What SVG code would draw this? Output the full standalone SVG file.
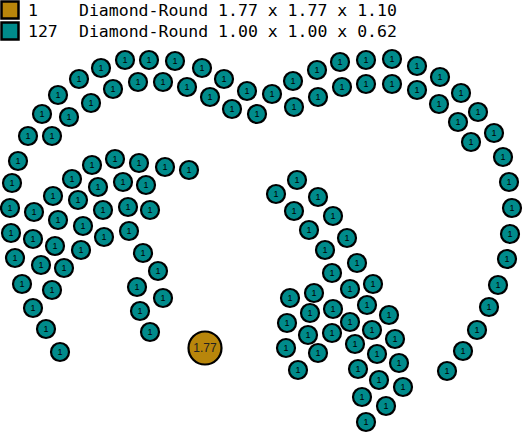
<svg xmlns="http://www.w3.org/2000/svg" width="525" height="434" viewBox="0 0 525 434">
<style>
.t circle{fill:#008B8B;stroke:#000;stroke-width:2.2}
.g circle{fill:#B8860B;stroke:#000;stroke-width:2.2}
.t text{font-family:"Liberation Sans",Arial,sans-serif;font-size:9px;fill:#000;text-anchor:middle;dominant-baseline:central}
.g text{font-family:"Liberation Sans",Arial,sans-serif;font-size:12px;fill:#222;text-anchor:middle;dominant-baseline:central}
.lg{font-family:"DejaVu Sans Mono","Liberation Mono",monospace;font-size:16.5px;fill:#000}
</style>
<g id="legend">
<rect x="1.5" y="1.5" width="17" height="17" fill="#B8860B" stroke="#000" stroke-width="2.5"/>
<rect x="1.5" y="22.5" width="17" height="17" fill="#008B8B" stroke="#000" stroke-width="2.5"/>
<text class="lg" x="28" y="16">1</text>
<text class="lg" x="79" y="16">Diamond-Round 1.77 x 1.77 x 1.10</text>
<text class="lg" x="28" y="37">127</text>
<text class="lg" x="79" y="37">Diamond-Round 1.00 x 1.00 x 0.62</text>
</g>
<g id="gold" class="g"><circle cx="205" cy="348" r="16.5"/><text x="205" y="348">1.77</text></g>
<g id="stones" class="t">
<g id="s1"><circle cx="125" cy="60" r="9"/><text x="125" y="60">1</text></g>
<g id="s2"><circle cx="149" cy="60" r="9"/><text x="149" y="60">1</text></g>
<g id="s3"><circle cx="175" cy="61" r="9"/><text x="175" y="61">1</text></g>
<g id="s4"><circle cx="101" cy="68" r="9"/><text x="101" y="68">1</text></g>
<g id="s5"><circle cx="79" cy="79" r="9"/><text x="79" y="79">1</text></g>
<g id="s6"><circle cx="58" cy="95" r="9"/><text x="58" y="95">1</text></g>
<g id="s7"><circle cx="42" cy="114" r="9"/><text x="42" y="114">1</text></g>
<g id="s8"><circle cx="28" cy="136" r="9"/><text x="28" y="136">1</text></g>
<g id="s9"><circle cx="18" cy="161" r="9"/><text x="18" y="161">1</text></g>
<g id="s10"><circle cx="138" cy="82" r="9"/><text x="138" y="82">1</text></g>
<g id="s11"><circle cx="163" cy="82" r="9"/><text x="163" y="82">1</text></g>
<g id="s12"><circle cx="113" cy="89" r="9"/><text x="113" y="89">1</text></g>
<g id="s13"><circle cx="91" cy="103" r="9"/><text x="91" y="103">1</text></g>
<g id="s14"><circle cx="69" cy="117" r="9"/><text x="69" y="117">1</text></g>
<g id="s15"><circle cx="52" cy="136" r="9"/><text x="52" y="136">1</text></g>
<g id="s16"><circle cx="202" cy="68" r="9"/><text x="202" y="68">1</text></g>
<g id="s17"><circle cx="224" cy="79" r="9"/><text x="224" y="79">1</text></g>
<g id="s18"><circle cx="247" cy="91" r="9"/><text x="247" y="91">1</text></g>
<g id="s19"><circle cx="272" cy="94" r="9"/><text x="272" y="94">1</text></g>
<g id="s20"><circle cx="293" cy="81" r="9"/><text x="293" y="81">1</text></g>
<g id="s21"><circle cx="317" cy="70" r="9"/><text x="317" y="70">1</text></g>
<g id="s22"><circle cx="340" cy="62" r="9"/><text x="340" y="62">1</text></g>
<g id="s23"><circle cx="187" cy="87" r="9"/><text x="187" y="87">1</text></g>
<g id="s24"><circle cx="210" cy="97" r="9"/><text x="210" y="97">1</text></g>
<g id="s25"><circle cx="232" cy="109" r="9"/><text x="232" y="109">1</text></g>
<g id="s26"><circle cx="257" cy="114" r="9"/><text x="257" y="114">1</text></g>
<g id="s27"><circle cx="294" cy="107" r="9"/><text x="294" y="107">1</text></g>
<g id="s28"><circle cx="318" cy="97" r="9"/><text x="318" y="97">1</text></g>
<g id="s29"><circle cx="342" cy="87" r="9"/><text x="342" y="87">1</text></g>
<g id="s30"><circle cx="366" cy="60" r="9"/><text x="366" y="60">1</text></g>
<g id="s31"><circle cx="392" cy="59" r="9"/><text x="392" y="59">1</text></g>
<g id="s32"><circle cx="417" cy="66" r="9"/><text x="417" y="66">1</text></g>
<g id="s33"><circle cx="440" cy="77" r="9"/><text x="440" y="77">1</text></g>
<g id="s34"><circle cx="461" cy="93" r="9"/><text x="461" y="93">1</text></g>
<g id="s35"><circle cx="478" cy="112" r="9"/><text x="478" y="112">1</text></g>
<g id="s36"><circle cx="494" cy="133" r="9"/><text x="494" y="133">1</text></g>
<g id="s37"><circle cx="503" cy="157" r="9"/><text x="503" y="157">1</text></g>
<g id="s38"><circle cx="366" cy="84" r="9"/><text x="366" y="84">1</text></g>
<g id="s39"><circle cx="392" cy="84" r="9"/><text x="392" y="84">1</text></g>
<g id="s40"><circle cx="417" cy="90" r="9"/><text x="417" y="90">1</text></g>
<g id="s41"><circle cx="439" cy="104" r="9"/><text x="439" y="104">1</text></g>
<g id="s42"><circle cx="458" cy="122" r="9"/><text x="458" y="122">1</text></g>
<g id="s43"><circle cx="471" cy="142" r="9"/><text x="471" y="142">1</text></g>
<g id="s44"><circle cx="509" cy="182" r="9"/><text x="509" y="182">1</text></g>
<g id="s45"><circle cx="512" cy="208" r="9"/><text x="512" y="208">1</text></g>
<g id="s46"><circle cx="510" cy="234" r="9"/><text x="510" y="234">1</text></g>
<g id="s47"><circle cx="507" cy="259" r="9"/><text x="507" y="259">1</text></g>
<g id="s48"><circle cx="498" cy="285" r="9"/><text x="498" y="285">1</text></g>
<g id="s49"><circle cx="489" cy="307" r="9"/><text x="489" y="307">1</text></g>
<g id="s50"><circle cx="477" cy="330" r="9"/><text x="477" y="330">1</text></g>
<g id="s51"><circle cx="463" cy="351" r="9"/><text x="463" y="351">1</text></g>
<g id="s52"><circle cx="447" cy="371" r="9"/><text x="447" y="371">1</text></g>
<g id="s53"><circle cx="12" cy="183" r="9"/><text x="12" y="183">1</text></g>
<g id="s54"><circle cx="10" cy="208" r="9"/><text x="10" y="208">1</text></g>
<g id="s55"><circle cx="11" cy="233" r="9"/><text x="11" y="233">1</text></g>
<g id="s56"><circle cx="15" cy="258" r="9"/><text x="15" y="258">1</text></g>
<g id="s57"><circle cx="22" cy="284" r="9"/><text x="22" y="284">1</text></g>
<g id="s58"><circle cx="34" cy="212" r="9"/><text x="34" y="212">1</text></g>
<g id="s59"><circle cx="33" cy="239" r="9"/><text x="33" y="239">1</text></g>
<g id="s60"><circle cx="41" cy="265" r="9"/><text x="41" y="265">1</text></g>
<g id="s61"><circle cx="52" cy="290" r="9"/><text x="52" y="290">1</text></g>
<g id="s62"><circle cx="53" cy="196" r="9"/><text x="53" y="196">1</text></g>
<g id="s63"><circle cx="58" cy="220" r="9"/><text x="58" y="220">1</text></g>
<g id="s64"><circle cx="55" cy="246" r="9"/><text x="55" y="246">1</text></g>
<g id="s65"><circle cx="64" cy="268" r="9"/><text x="64" y="268">1</text></g>
<g id="s66"><circle cx="72" cy="179" r="9"/><text x="72" y="179">1</text></g>
<g id="s67"><circle cx="78" cy="200" r="9"/><text x="78" y="200">1</text></g>
<g id="s68"><circle cx="83" cy="226" r="9"/><text x="83" y="226">1</text></g>
<g id="s69"><circle cx="81" cy="250" r="9"/><text x="81" y="250">1</text></g>
<g id="s70"><circle cx="92" cy="165" r="9"/><text x="92" y="165">1</text></g>
<g id="s71"><circle cx="98" cy="187" r="9"/><text x="98" y="187">1</text></g>
<g id="s72"><circle cx="103" cy="210" r="9"/><text x="103" y="210">1</text></g>
<g id="s73"><circle cx="104" cy="237" r="9"/><text x="104" y="237">1</text></g>
<g id="s74"><circle cx="115" cy="159" r="9"/><text x="115" y="159">1</text></g>
<g id="s75"><circle cx="123" cy="182" r="9"/><text x="123" y="182">1</text></g>
<g id="s76"><circle cx="128" cy="207" r="9"/><text x="128" y="207">1</text></g>
<g id="s77"><circle cx="129" cy="231" r="9"/><text x="129" y="231">1</text></g>
<g id="s78"><circle cx="139" cy="163" r="9"/><text x="139" y="163">1</text></g>
<g id="s79"><circle cx="146" cy="185" r="9"/><text x="146" y="185">1</text></g>
<g id="s80"><circle cx="150" cy="210" r="9"/><text x="150" y="210">1</text></g>
<g id="s81"><circle cx="143" cy="253" r="9"/><text x="143" y="253">1</text></g>
<g id="s82"><circle cx="158" cy="271" r="9"/><text x="158" y="271">1</text></g>
<g id="s83"><circle cx="165" cy="167" r="9"/><text x="165" y="167">1</text></g>
<g id="s84"><circle cx="189" cy="170" r="9"/><text x="189" y="170">1</text></g>
<g id="s85"><circle cx="33" cy="308" r="9"/><text x="33" y="308">1</text></g>
<g id="s86"><circle cx="46" cy="329" r="9"/><text x="46" y="329">1</text></g>
<g id="s87"><circle cx="60" cy="352" r="9"/><text x="60" y="352">1</text></g>
<g id="s88"><circle cx="137" cy="287" r="9"/><text x="137" y="287">1</text></g>
<g id="s89"><circle cx="163" cy="298" r="9"/><text x="163" y="298">1</text></g>
<g id="s90"><circle cx="140" cy="311" r="9"/><text x="140" y="311">1</text></g>
<g id="s91"><circle cx="150" cy="332" r="9"/><text x="150" y="332">1</text></g>
<g id="s92"><circle cx="297" cy="180" r="9"/><text x="297" y="180">1</text></g>
<g id="s93"><circle cx="276" cy="194" r="9"/><text x="276" y="194">1</text></g>
<g id="s94"><circle cx="318" cy="197" r="9"/><text x="318" y="197">1</text></g>
<g id="s95"><circle cx="294" cy="211" r="9"/><text x="294" y="211">1</text></g>
<g id="s96"><circle cx="333" cy="216" r="9"/><text x="333" y="216">1</text></g>
<g id="s97"><circle cx="309" cy="230" r="9"/><text x="309" y="230">1</text></g>
<g id="s98"><circle cx="347" cy="238" r="9"/><text x="347" y="238">1</text></g>
<g id="s99"><circle cx="325" cy="250" r="9"/><text x="325" y="250">1</text></g>
<g id="s100"><circle cx="357" cy="263" r="9"/><text x="357" y="263">1</text></g>
<g id="s101"><circle cx="332" cy="273" r="9"/><text x="332" y="273">1</text></g>
<g id="s102"><circle cx="373" cy="284" r="9"/><text x="373" y="284">1</text></g>
<g id="s103"><circle cx="350" cy="289" r="9"/><text x="350" y="289">1</text></g>
<g id="s104"><circle cx="314" cy="293" r="9"/><text x="314" y="293">1</text></g>
<g id="s105"><circle cx="290" cy="298" r="9"/><text x="290" y="298">1</text></g>
<g id="s106"><circle cx="367" cy="305" r="9"/><text x="367" y="305">1</text></g>
<g id="s107"><circle cx="333" cy="309" r="9"/><text x="333" y="309">1</text></g>
<g id="s108"><circle cx="310" cy="313" r="9"/><text x="310" y="313">1</text></g>
<g id="s109"><circle cx="389" cy="315" r="9"/><text x="389" y="315">1</text></g>
<g id="s110"><circle cx="287" cy="323" r="9"/><text x="287" y="323">1</text></g>
<g id="s111"><circle cx="350" cy="322" r="9"/><text x="350" y="322">1</text></g>
<g id="s112"><circle cx="372" cy="330" r="9"/><text x="372" y="330">1</text></g>
<g id="s113"><circle cx="332" cy="333" r="9"/><text x="332" y="333">1</text></g>
<g id="s114"><circle cx="308" cy="335" r="9"/><text x="308" y="335">1</text></g>
<g id="s115"><circle cx="395" cy="339" r="9"/><text x="395" y="339">1</text></g>
<g id="s116"><circle cx="355" cy="344" r="9"/><text x="355" y="344">1</text></g>
<g id="s117"><circle cx="286" cy="348" r="9"/><text x="286" y="348">1</text></g>
<g id="s118"><circle cx="377" cy="354" r="9"/><text x="377" y="354">1</text></g>
<g id="s119"><circle cx="318" cy="353" r="9"/><text x="318" y="353">1</text></g>
<g id="s120"><circle cx="399" cy="363" r="9"/><text x="399" y="363">1</text></g>
<g id="s121"><circle cx="358" cy="369" r="9"/><text x="358" y="369">1</text></g>
<g id="s122"><circle cx="298" cy="370" r="9"/><text x="298" y="370">1</text></g>
<g id="s123"><circle cx="379" cy="380" r="9"/><text x="379" y="380">1</text></g>
<g id="s124"><circle cx="403" cy="387" r="9"/><text x="403" y="387">1</text></g>
<g id="s125"><circle cx="362" cy="397" r="9"/><text x="362" y="397">1</text></g>
<g id="s126"><circle cx="386" cy="406" r="9"/><text x="386" y="406">1</text></g>
<g id="s127"><circle cx="366" cy="422" r="9"/><text x="366" y="422">1</text></g>
</g>
</svg>
